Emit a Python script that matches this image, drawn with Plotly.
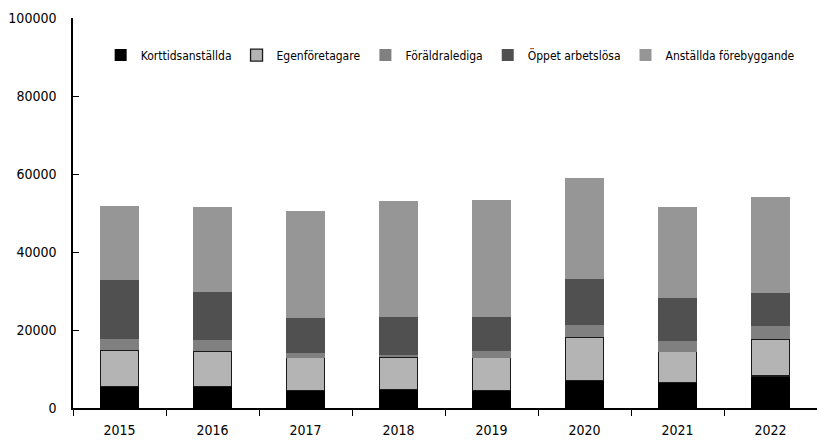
import plotly.graph_objects as go

years = ["2015", "2016", "2017", "2018", "2019", "2020", "2021", "2022"]
korttid = [5600, 5600, 4400, 4700, 4400, 7100, 6600, 8200]
egen = [9300, 8900, 8500, 8400, 8500, 11100, 7800, 9500]
foraldra = [2900, 3000, 1100, 400, 1600, 3200, 2900, 3400]
oppet = [15100, 12300, 9200, 9800, 8900, 11800, 11000, 8500]
anstallda = [19000, 21800, 27400, 29900, 30000, 25800, 23300, 24600]

series = [
    ("Korttidsanställda", korttid, "#000000", None),
    ("Egenföretagare", egen, "#b4b4b4", "#1a1a1a"),
    ("Föräldralediga", foraldra, "#808080", None),
    ("Öppet arbetslösa", oppet, "#505050", None),
    ("Anställda förebyggande", anstallda, "#969696", None),
]

FONT = "DejaVu Sans Condensed, Liberation Sans Narrow, sans-serif"

fig = go.Figure()
for name, vals, col, line in series:
    fig.add_trace(go.Bar(
        x=years, y=vals, name=name,
        marker=dict(color=col,
                    line=dict(color=line if line else col, width=1.3 if line else 0)),
    ))

fig.update_layout(
    barmode="stack",
    bargap=0.59,
    width=817, height=441,
    margin=dict(l=73, r=0, t=18, b=33, autoexpand=False),
    paper_bgcolor="white", plot_bgcolor="white",
    font=dict(family=FONT, size=14, color="#000000"),
    showlegend=True,
    legend=dict(orientation="h", xref="container", x=0.551, xanchor="center",
                y=0.905, yanchor="middle",
                font=dict(family=FONT, size=12), itemwidth=30, traceorder="normal",
                bgcolor="rgba(0,0,0,0)"),
    xaxis=dict(type="category", showline=True, linecolor="#000000", linewidth=1.5,
               ticks="outside", ticklen=6, tickcolor="#000000", tickson="boundaries",
               showgrid=False, zeroline=False, automargin=False, ticklabelstandoff=8),
    yaxis=dict(range=[0, 100000], dtick=20000, showline=True, linecolor="#000000",
               linewidth=1.5, ticks="inside", ticklen=6, tickcolor="#000000",
               showgrid=False, zeroline=False, tickformat="d", ticklabelstandoff=12,
               automargin=False),
)

fig.write_html("out.html", config={"displayModeBar": False},
               post_script="document.body.style.margin='0';document.body.style.padding='0';")
